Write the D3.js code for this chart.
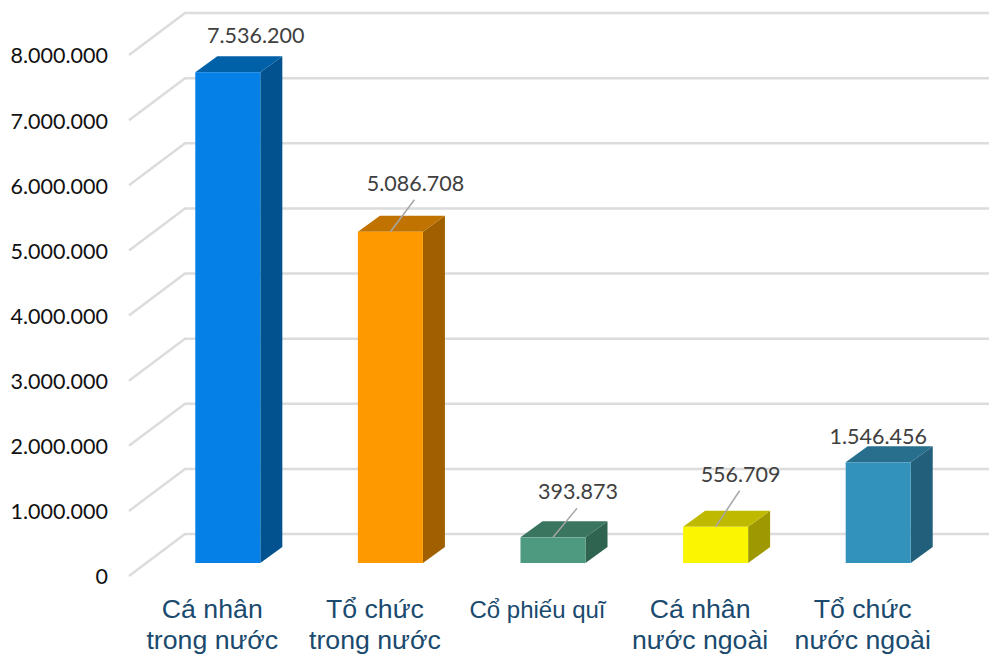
<!DOCTYPE html>
<html><head><meta charset="utf-8">
<script src="https://cdn.jsdelivr.net/npm/d3@7/dist/d3.min.js"></script>
<style>html,body{margin:0;padding:0;background:#fff}svg{display:block}</style></head>
<body><svg id="c" width="989" height="654"></svg>
<script>
const categories = [["Cá nhân","trong nước"],["Tổ chức","trong nước"],["Cổ phiếu quĩ"],["Cá nhân","nước ngoài"],["Tổ chức","nước ngoài"]];
const values = [7536200,5086708,393873,556709,1546456];
const tickValues = [0,1000000,2000000,3000000,4000000,5000000,6000000,7000000,8000000];
const frontColors = ["#0580e6","#ff9900","#4d9a80","#faf500","#3392bc"];
const sideColors = ["#01528f","#a06000","#2f6450","#9e9900","#215f7a"];
const topColors = ["#0061a9","#c07300","#3a7560","#bfba00","#286f8e"];
const labelDx = [28,25,25,25,0];
const labelDy = [-29,-41,-38,-45,-18];
const hasLeader = [false,true,true,true,false];

const svg = d3.select("#c");
const fmt = d3.formatLocale({decimal:",",thousands:".",grouping:[3],currency:["","" ]}).format(",d");
const domain = [0,8000000];
const yAxis = d3.scaleLinear().domain(domain).range([576,55]);
const yWall = d3.scaleLinear().domain(domain).range([534,13]);
const yBar = d3.scaleLinear().domain(domain).range([563,42]);
const x = d3.scaleBand().domain(d3.range(5)).range([146.5,959.5]).paddingInner(0.6).paddingOuter(0.3);
const depthX = 22, depthY = 16;

// grid
const grid = svg.append("g").attr("fill","none").attr("stroke","#dcdcdc").attr("stroke-width",2.5);
tickValues.forEach(t=>{
  grid.append("path").attr("d",`M129,${yAxis(t)}L185,${yWall(t)}L989,${yWall(t)}`);
});

// axis
const ax = svg.append("g").attr("transform","translate(108,1)").call(d3.axisLeft(yAxis).tickValues(tickValues).tickFormat(fmt).tickSize(0).tickPadding(0));
ax.select(".domain").remove();
ax.selectAll("text").attr("font-family","Lato, 'Open Sans', sans-serif").attr("font-size",21.5).attr("fill","#111");

// bars
const bars = svg.append("g").selectAll("g").data(values).join("g");
bars.each(function(v,i){
  const g = d3.select(this), x0=x(i), w=x.bandwidth(), b=yBar(0), t=yBar(v);
  g.append("path").attr("fill",sideColors[i]).attr("d",`M${x0+w},${b}L${x0+w+depthX},${b-depthY}L${x0+w+depthX},${t-depthY}L${x0+w},${t}Z`);
  g.append("path").attr("fill",topColors[i]).attr("d",`M${x0},${t}L${x0+depthX},${t-depthY}L${x0+w+depthX},${t-depthY}L${x0+w},${t}Z`);
  g.append("rect").attr("x",x0).attr("y",t).attr("width",w).attr("height",b-t).attr("fill",frontColors[i]);
  const cx=x0+w/2;
  if(hasLeader[i]){
    g.append("line").attr("x1",cx).attr("y1",t).attr("x2",cx+labelDx[i]-1).attr("y2",t+labelDy[i]+9)
     .attr("stroke","#a6a6a6").attr("stroke-width",1.5);
  }
  g.append("text").attr("x",cx+labelDx[i]).attr("y",t+labelDy[i]).attr("text-anchor","middle")
   .attr("font-family","Lato, 'Open Sans', sans-serif").attr("font-size",21.5).attr("fill","#404040").text(fmt(v));
});

// category labels
const cats = svg.append("g").attr("font-family","'Liberation Sans', Arial, sans-serif").attr("fill","#1a4a6e").attr("text-anchor","middle");
categories.forEach((c,i)=>{
  const cx = x(i)+x.bandwidth()/2 - 15.5;
  const t = cats.append("text").attr("font-size",c.length>1?26.7:24);
  c.forEach((s,j)=>t.append("tspan").attr("x",cx).attr("y",618+j*31).text(s));
});
</script></body></html>
